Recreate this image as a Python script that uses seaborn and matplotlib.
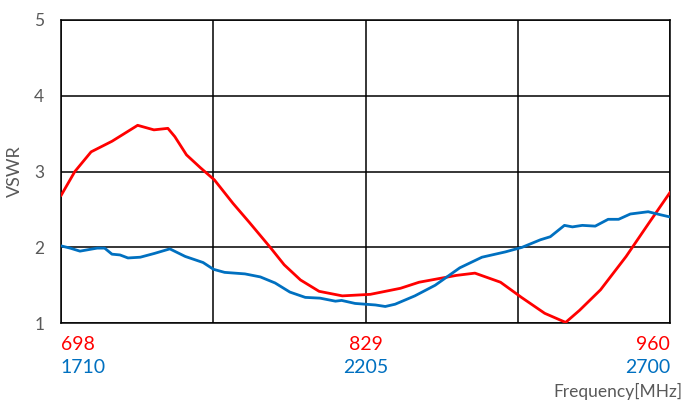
import numpy as np
import pandas as pd
import matplotlib
matplotlib.use("Agg")
import matplotlib.pyplot as plt
import seaborn as sns

# low band (red), MHz / VSWR
low_freq = [698, 704, 711, 720, 731, 738, 744, 747, 752, 758, 764, 772, 779, 788,
            794, 801, 809, 819, 831, 844, 852, 868, 876, 887, 896, 906, 915, 921,
            930, 941, 951, 960]
low_vswr = [2.68, 3.0, 3.26, 3.40, 3.61, 3.55, 3.57, 3.46, 3.22, 3.05, 2.89, 2.58,
            2.33, 2.0, 1.77, 1.57, 1.42, 1.36, 1.38, 1.46, 1.54, 1.63, 1.66, 1.54,
            1.34, 1.13, 1.01, 1.17, 1.44, 1.88, 2.33, 2.73]

# high band (blue)
high_freq = [1710, 1725, 1741, 1769, 1781, 1793, 1806, 1819, 1839, 1862, 1887, 1912,
             1941, 1958, 1976, 2009, 2034, 2058, 2082, 2107, 2131, 2156, 2166, 2188,
             2221, 2237, 2253, 2285, 2318, 2358, 2394, 2432, 2459, 2489, 2505, 2528,
             2541, 2557, 2578, 2599, 2616, 2635, 2664, 2684, 2700]
high_vswr = [2.02, 1.99, 1.95, 1.99, 1.99, 1.91, 1.90, 1.86, 1.87, 1.92, 1.98, 1.88,
             1.80, 1.71, 1.67, 1.65, 1.61, 1.53, 1.41, 1.34, 1.33, 1.29, 1.30, 1.26,
             1.24, 1.22, 1.25, 1.36, 1.50, 1.73, 1.87, 1.94, 2.0, 2.10, 2.14, 2.29,
             2.27, 2.29, 2.28, 2.37, 2.37, 2.44, 2.47, 2.43, 2.40]

low_ticks = [698, 829, 960]
high_ticks = [1710, 2205, 2700]
y_ticks = [1, 2, 3, 4, 5]

RED = "#ff0000"
BLUE = "#0070c0"
GREY = "#595959"

sns.set_style("white")
plt.rcParams['font.family'] = ['Lato', 'DejaVu Sans']

df_low = pd.DataFrame({'freq': low_freq, 'vswr': low_vswr})
df_high = pd.DataFrame({'freq': high_freq, 'vswr': high_vswr})

fig = plt.figure(figsize=(6.84, 4.07), dpi=100)
ax = fig.add_axes([0.089, 0.206, 0.891, 0.745])
ax2 = ax.twiny()

sns.lineplot(data=df_low, x='freq', y='vswr', ax=ax, color=RED, lw=2.0, zorder=5)
sns.lineplot(data=df_high, x='freq', y='vswr', ax=ax2, color=BLUE, lw=2.0, zorder=5)

ax.set_xlim(698, 960)
ax2.set_xlim(1710, 2700)
ax.set_ylim(1, 5)
ax.set_yticks(y_ticks)

# grid: horizontal at every unit, vertical at quarters
ax.set_xticks(low_ticks)
ax.set_xticks([698 + 262 / 4, 698 + 3 * 262 / 4], minor=True)
ax.grid(True, which='both', color='black', lw=1.1)
ax.set_axisbelow(True)
for s in ax.spines.values():
    s.set_color('black')
    s.set_linewidth(1.1)
for s in ax2.spines.values():
    s.set_visible(False)

ax.set_xticklabels([str(t) for t in low_ticks], color=RED, fontsize=14)
ax.tick_params(axis='x', which='both', length=0, pad=9)
ax.tick_params(axis='y', length=0, pad=12, labelcolor=GREY, labelsize=12.5)
labs = ax.get_xticklabels()
labs[0].set_ha('left')
labs[-1].set_ha('right')

ax2.xaxis.set_ticks_position('bottom')
ax2.xaxis.set_label_position('bottom')
ax2.set_xticks(high_ticks)
ax2.set_xticklabels([str(t) for t in high_ticks], color=BLUE, fontsize=14)
ax2.tick_params(axis='x', length=0, pad=26)
labs2 = ax2.get_xticklabels()
labs2[0].set_ha('left')
labs2[-1].set_ha('right')
ax2.grid(False)
ax2.set_xlabel('')

ax.set_xlabel('')
ax.set_ylabel('VSWR', color=GREY, fontsize=13, labelpad=8)
fig.text(0.998, 0.038, 'Frequency[MHz]', ha='right', va='center', color=GREY, fontsize=12.5)

fig.savefig('out.png', dpi=100)
